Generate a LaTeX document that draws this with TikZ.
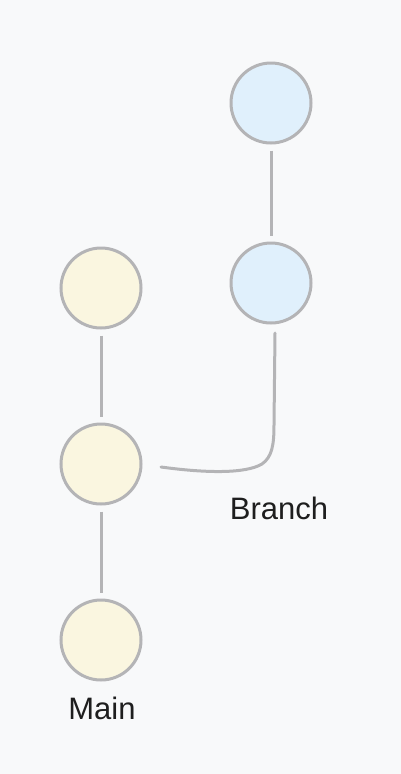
\documentclass[tikz,border=0pt]{standalone}
\usepackage{fontspec}
\setmainfont{Liberation Sans}
\definecolor{bgcol}{RGB}{248,249,250}
\definecolor{edgecol}{RGB}{180,180,182}
\definecolor{mainfill}{RGB}{250,246,224}
\definecolor{branchfill}{RGB}{224,240,252}
\definecolor{textcol}{RGB}{30,30,30}
\tikzset{
  commit/.style={circle, draw=edgecol, line width=3pt, minimum size=80pt, inner sep=0pt},
  maincommit/.style={commit, fill=mainfill},
  branchcommit/.style={commit, fill=branchfill},
  link/.style={draw=edgecol, line width=3pt, shorten <=6pt, shorten >=6pt},
  tag/.style={text=textcol, font=\fontsize{31}{34}\selectfont}
}
\begin{document}
\begin{tikzpicture}[x=1pt, y=-1pt]
  \fill[bgcol] (0,0) rectangle (401,774);
  \useasboundingbox (0,0) rectangle (401,774);
  \node[maincommit] (m1) at (101,288) {};
  \node[maincommit] (m2) at (101,464) {};
  \node[maincommit] (m3) at (101,640) {};
  \node[branchcommit] (b1) at (271,103) {};
  \node[branchcommit] (b2) at (271,283) {};
  \node[tag] (mainlabel) at (102,708) {Main};
  \node[tag] (branchlabel) at (279,508) {Branch};
  \coordinate (forkstart) at (161,467);
  \coordinate (forkend) at (275,333);
  \begin{scope}[link]
    \draw (m1) -- (m2);
    \draw (m2) -- (m3);
    \draw (b1) -- (b2);
  \end{scope}
  \draw[draw=edgecol, line width=3pt, line cap=round]
    (forkstart) .. controls (205,473) and (245,474) .. (262,464)
    .. controls (272,457) and (274,445) .. (274,425) -- (forkend);
\end{tikzpicture}
\end{document}
